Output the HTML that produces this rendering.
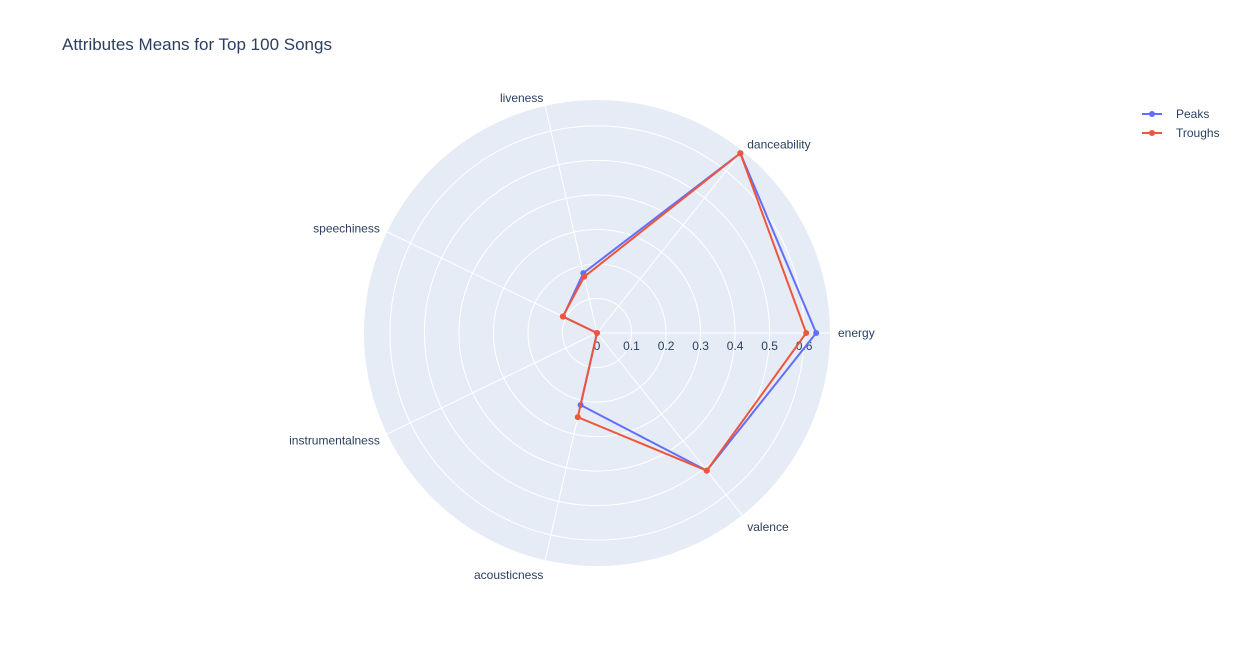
<!DOCTYPE html>
<html><head><meta charset="utf-8">
<style>
body{margin:0;background:#fff;font-family:"Liberation Sans",Arial,sans-serif;}
svg text{font-family:"Liberation Sans",Arial,sans-serif;fill:#2a3f5f;}
</style></head>
<body>
<svg id="chart" width="1242" height="648" xmlns="http://www.w3.org/2000/svg">
<rect width="1242" height="648" fill="#fff"/>
<text x="62" y="50" font-size="17">Attributes Means for Top 100 Songs</text>
<g id="polar"></g>
<g id="legend">
  <line x1="1142" y1="114" x2="1162" y2="114" stroke="#636efa" stroke-width="2"/>
  <circle cx="1152" cy="114" r="3" fill="#636efa"/>
  <text x="1176" y="118" font-size="12">Peaks</text>
  <line x1="1142" y1="133" x2="1162" y2="133" stroke="#ef553b" stroke-width="2"/>
  <circle cx="1152" cy="133" r="3" fill="#ef553b"/>
  <text x="1176" y="137" font-size="12">Troughs</text>
</g>
</svg>
<script>
const categories=["energy","danceability","liveness","speechiness","instrumentalness","acousticness","valence"];
const peaks=[0.635,0.666,0.178,0.109,0.0,0.214,0.51];
const troughs=[0.606,0.666,0.167,0.11,0.0,0.25,0.51];
const radialTicks=[0,0.1,0.2,0.3,0.4,0.5,0.6];
const rMax=0.675;
const cx=597,cy=333,R=233;
const NS="http://www.w3.org/2000/svg";
const g=document.getElementById('polar');
function rs(v){return v/rMax*R;}
function ang(i){return i*2*Math.PI/categories.length;}
function pt(i,v){const a=ang(i),r=rs(v);return [cx+r*Math.cos(a),cy-r*Math.sin(a)];}
function mk(t,attrs){const e=document.createElementNS(NS,t);for(const k in attrs)e.setAttribute(k,attrs[k]);g.appendChild(e);return e;}
const bg=mk('circle',{cx:cx,cy:cy,r:R,fill:'#e5ecf6'});


radialTicks.forEach(t=>{if(t>0){const c=mk('circle',{cx:cx,cy:cy,r:rs(t),fill:'none',stroke:'#fff','stroke-width':1});

}});
categories.forEach((c,i)=>{const a=ang(i);
const l=mk('line',{x1:cx,y1:cy,x2:cx+R*Math.cos(a),y2:cy-R*Math.sin(a),stroke:'#fff','stroke-width':1});


const cs=Math.cos(a),sn=Math.sin(a);
const lx=cx+(R+8)*cs,ly=cy-(R+8)*sn;
const anchor=cs>=0?'start':'end';
const dy=4+(sn<0?-sn*7:0);
const tx=mk('text',{x:lx,y:ly+dy,'font-size':12,'text-anchor':anchor});
tx.textContent=c;

});
radialTicks.forEach(t=>{const tx=mk('text',{x:cx+rs(t),y:cy+17,'font-size':12,'text-anchor':'middle'});
tx.textContent=String(t);

});
function series(vals,color,name){
const pts=vals.map((v,i)=>pt(i,v));pts.push(pts[0]);
const p=mk('polyline',{points:pts.map(p=>p.join(',')).join(' '),fill:'none',stroke:color,'stroke-width':2});


vals.forEach((v,i)=>{const q=pt(i,v);const c=mk('circle',{cx:q[0],cy:q[1],r:3,fill:color});

});}
series(peaks,'#636efa','peaks');
series(troughs,'#ef553b','troughs');
</script>
</body></html>
